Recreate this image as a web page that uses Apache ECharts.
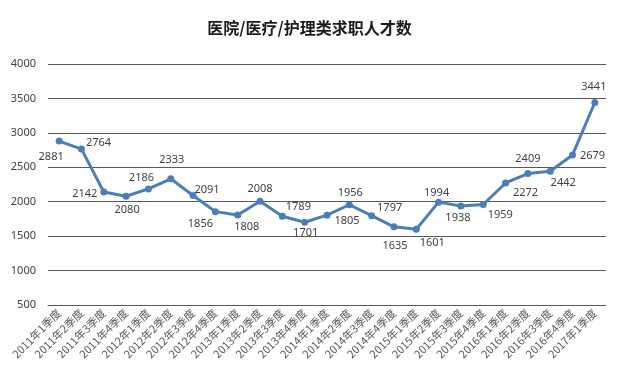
<!DOCTYPE html>
<html>
<head>
<meta charset="utf-8">
<script src="https://cdn.jsdelivr.net/npm/echarts@6/dist/echarts.min.js"></script>
<style>html,body{margin:0;padding:0;background:#fff}#c{width:619px;height:379px}</style>
</head>
<body>
<div id="c"></div>
<script>
const categories = ['2011年1季度','2011年2季度','2011年3季度','2011年4季度','2012年1季度','2012年2季度','2012年3季度','2012年4季度','2013年1季度','2013年2季度','2013年3季度','2013年4季度','2014年1季度','2014年2季度','2014年3季度','2014年4季度','2015年1季度','2015年2季度','2015年3季度','2015年4季度','2016年1季度','2016年2季度','2016年3季度','2016年4季度','2017年1季度'];
const values = [2881,2764,2142,2080,2186,2333,2091,1856,1808,2008,1789,1701,1805,1956,1797,1635,1601,1994,1938,1959,2272,2409,2442,2679,3441];
const yTicks = { min: 500, max: 4000, interval: 500 };
const titleText = '医院/医疗/护理类求职人才数';
// label placement (style only)
const labelOffsets = [[-8,16],[17,-6],[-19,2],[1,14],[-7,-11],[1,-19],[14,-6],[-15,12],[9,12],[0,-12],[16,-9],[1,11],[20,6],[1,-12],[18,-8],[1,19],[16,14],[-2,-9],[-3,12],[17,10],[20,10],[0,-15],[13,12],[20,1],[-1,-16]];

const chart = echarts.init(document.getElementById('c'), null, {renderer:'canvas'});
chart.setOption({
  animation: false,
  backgroundColor: '#ffffff',
  title: {
    text: titleText, left: 'center', top: 15,
    textStyle: { fontFamily: 'Noto Sans CJK SC', fontSize: 16, fontWeight: 'bold', color: '#1a1a1a' }
  },
  grid: { left: 48, right: 13, top: 64, bottom: 74, containLabel: false },
  xAxis: {
    type: 'category', data: categories, boundaryGap: true,
    axisLine: { show: true, lineStyle: { color: '#595959', width: 1 } },
    axisTick: { show: false },
    axisLabel: { interval: 0, rotate: 45, margin: 6, fontSize: 11, color: '#595959', fontFamily: 'Noto Sans CJK SC' }
  },
  yAxis: {
    type: 'value', min: yTicks.min, max: yTicks.max, interval: yTicks.interval,
    axisLine: { show: false }, axisTick: { show: false },
    splitLine: { lineStyle: { color: '#595959', width: 1 } },
    axisLabel: { margin: 12, fontSize: 11, color: '#404040', fontFamily: 'Noto Sans', formatter: v => String(v) }
  },
  series: [{
    type: 'line',
    data: values.map((v, i) => ({ value: v, label: { offset: labelOffsets[i] } })),
    symbol: 'circle', symbolSize: 7,
    lineStyle: { color: '#4a7ebb', width: 3 },
    itemStyle: { color: '#4a7ebb' },
    label: { show: true, position: 'inside', fontSize: 11, color: '#404040', fontFamily: 'Noto Sans' }
  }]
});
</script>
</body>
</html>
